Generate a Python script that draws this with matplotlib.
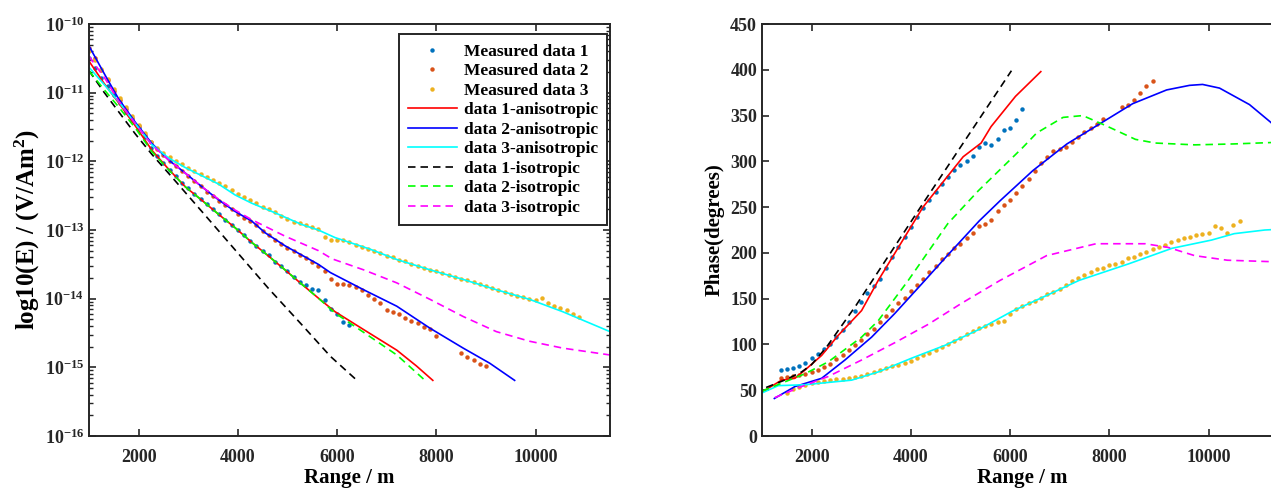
import numpy as np
import matplotlib
matplotlib.use("Agg")
import matplotlib.pyplot as plt

plt.rcParams['font.family'] = ['Liberation Serif', 'DejaVu Serif']
plt.rcParams['font.weight'] = 'bold'
plt.rcParams['mathtext.fontset'] = 'custom'
plt.rcParams['mathtext.rm'] = 'Liberation Serif:bold'
plt.rcParams['mathtext.bf'] = 'Liberation Serif:bold'
plt.rcParams['mathtext.it'] = 'Liberation Serif:bold'

# ---------------- left panel: field amplitude, stored as log10(E) ----------------
# measured data (one dot every 125 m)
m1_x = np.arange(1000, 6251, 125)
m1_logE = [-10.50, -10.64, -10.78, -10.91, -11.03, -11.15, -11.28, -11.40,
           -11.52, -11.65, -11.80, -11.92, -12.02, -12.13, -12.22, -12.31,
           -12.39, -12.47, -12.55, -12.62, -12.70, -12.77, -12.85, -12.92,
           -13.00, -13.07, -13.16, -13.23, -13.30, -13.37, -13.46, -13.52,
           -13.60, -13.68, -13.76, -13.80, -13.86, -13.88, -14.02, -14.15,
           -14.22, -14.34, -14.39]

m2_x = np.concatenate([np.arange(1000, 8001, 125), np.arange(8500, 9001, 125)])
m2_logE = [-10.35, -10.50, -10.67, -10.82, -10.97, -11.11, -11.24, -11.37,
           -11.49, -11.61, -11.72, -11.82, -11.91, -11.99, -12.07, -12.14,
           -12.21, -12.29, -12.36, -12.44, -12.51, -12.58, -12.64, -12.70,
           -12.76, -12.82, -12.87, -12.93, -13.01, -13.08, -13.14, -13.20,
           -13.26, -13.31, -13.37, -13.41, -13.46, -13.52, -13.60, -13.72,
           -13.78, -13.79, -13.80, -13.83, -13.88, -13.95, -14.01, -14.07,
           -14.16, -14.19, -14.22, -14.28, -14.32, -14.36, -14.41, -14.44,
           -14.55,
           -14.79, -14.85, -14.90, -14.95, -14.98]

m3_x = np.arange(1000, 10876, 125)
m3_logE = [-10.40, -10.52, -10.66, -10.80, -10.94, -11.08, -11.21, -11.34,
           -11.47, -11.59, -11.72, -11.81, -11.88, -11.94, -11.99, -12.04,
           -12.09, -12.14, -12.18, -12.23, -12.27, -12.31, -12.36, -12.42,
           -12.47, -12.52, -12.56, -12.61, -12.66, -12.70, -12.74, -12.79,
           -12.84, -12.88, -12.90, -12.93, -12.96, -12.98, -13.10, -13.15,
           -13.14, -13.14, -13.18, -13.22, -13.25, -13.27, -13.30, -13.34,
           -13.38, -13.40, -13.43, -13.45, -13.50, -13.53, -13.55, -13.58,
           -13.60, -13.63, -13.66, -13.68, -13.71, -13.73, -13.76, -13.79,
           -13.82, -13.85, -13.88, -13.90, -13.93, -13.96, -13.98, -14.00,
           -14.02, -13.99, -14.06, -14.10, -14.14, -14.16, -14.22, -14.26]

# modelled curves
a1_x = [1000, 1300, 1600, 1950, 2270, 2600, 2940, 3280, 3610, 3950, 4280,
        4620, 4950, 5290, 5620, 5960, 6535, 7204, 7600, 7930]
a1_logE = [-10.54, -10.86, -11.15, -11.50, -11.84, -12.11, -12.37, -12.57,
           -12.77, -12.97, -13.18, -13.38, -13.58, -13.79, -13.99, -14.19,
           -14.45, -14.75, -14.98, -15.19]
a2_x = [1000, 1329, 1597, 1933, 2268, 2604, 2939, 3275, 3610, 3946, 4281,
        4550, 4952, 5623, 5866, 6535, 7204, 7873, 8542, 9077, 9579]
a2_logE = [-10.32, -10.75, -11.09, -11.43, -11.74, -11.98, -12.17, -12.37,
           -12.56, -12.73, -12.87, -13.04, -13.23, -13.50, -13.62, -13.87,
           -14.11, -14.43, -14.72, -14.94, -15.19]
a3_x = [1000, 1329, 1597, 1933, 2268, 2604, 2939, 3275, 3610, 3946, 4281,
        4751, 5288, 5623, 5959, 6669, 7204, 7873, 8542, 9211, 9880, 10549, 11500]
a3_logE = [-10.63, -10.90, -11.13, -11.45, -11.76, -11.95, -12.09, -12.21,
           -12.33, -12.49, -12.61, -12.75, -12.92, -13.00, -13.11, -13.28,
           -13.43, -13.58, -13.72, -13.87, -14.01, -14.19, -14.48]
i1_x = [1000, 1300, 1600, 1933, 2270, 2600, 3275, 3946, 4617, 5290, 5866, 6401]
i1_logE = [-10.68, -10.99, -11.28, -11.60, -11.90, -12.17, -12.73, -13.29,
           -13.85, -14.38, -14.84, -15.19]
i2_x = [1000, 1300, 1600, 1950, 2270, 2600, 2940, 3280, 3610, 3950, 4280,
        4620, 4950, 5290, 5620, 5960, 6535, 7204, 7773]
i2_logE = [-10.68, -10.95, -11.21, -11.53, -11.86, -12.12, -12.37, -12.57,
           -12.77, -12.97, -13.18, -13.38, -13.58, -13.79, -13.99, -14.21,
           -14.49, -14.82, -15.19]
i3_x = [1000, 1329, 1597, 1933, 2268, 2604, 2939, 3275, 3610, 3946, 4281,
        4952, 5623, 5900, 6535, 7204, 7873, 8542, 9211, 9880, 10549, 11500]
i3_logE = [-10.47, -10.80, -11.12, -11.45, -11.76, -11.98, -12.17, -12.37,
           -12.55, -12.71, -12.85, -13.09, -13.30, -13.42, -13.58, -13.77,
           -14.01, -14.26, -14.48, -14.62, -14.72, -14.82]

# ---------------- right panel: phase in degrees ----------------
p1_x = np.arange(1375, 6251, 125)
p1_deg = [72, 73, 74, 76, 80,
          85, 90, 95, 101, 108, 116, 125, 136,
          146, 156, 164, 172, 184, 195, 206, 217,
          228, 239, 249, 258, 267, 275, 283, 290,
          296, 300, 306, 316, 320, 318, 324, 334,
          336, 345, 357]
p2_x = np.concatenate([np.arange(1375, 7876, 125), np.arange(8250, 8876, 125)])
p2_deg = [63, 64, 66, 67, 68,
          70, 72, 75, 79, 84, 89, 94, 99,
          105, 111, 117, 124, 131, 138, 145, 151,
          158, 165, 172, 179, 186, 193, 199, 205,
          210, 216, 222, 229, 232, 236, 246, 252,
          258, 265, 273, 281, 289, 298, 305, 311,
          313, 316, 321, 327, 332, 336, 341, 346,
          359, 362, 367, 375, 382, 388]
p3_x = np.arange(1500, 10626, 125)
p3_deg = [47, 51, 54, 56,
          58, 59, 60, 61, 62, 62, 63, 64,
          66, 68, 70, 72, 74, 76, 78, 80,
          82, 85, 88, 91, 94, 97, 100, 104,
          107, 111, 115, 118, 120, 122, 124, 126,
          133, 139, 142, 145, 148, 151, 155, 157,
          161, 165, 169, 173, 176, 179, 182, 184,
          187, 188, 190, 194, 196, 199, 201, 204,
          206, 209, 212, 214, 216, 217, 219, 221,
          222, 229, 227, 222, 231, 235]

pa1_x = [1000, 1395, 1664, 1866, 2202, 2538, 3008, 3344, 4245, 5055, 5417,
         5618, 6110, 6620]
pa1_deg = [48, 61, 63, 72, 88, 110, 137, 170, 250, 305, 320, 338, 371, 398]
pa2_x = [1250, 1664, 2202, 2672, 3210, 3680, 4285, 4700, 5380, 5800, 6462,
         7146, 7809, 8472, 9156, 9618, 9880, 10222, 10825, 11246, 11500]
pa2_deg = [41, 54, 63, 83, 108, 134, 170, 195, 235, 257, 290, 319, 341, 363,
           378, 383, 384, 380, 362, 343, 330]
pa3_x = [1000, 1328, 1866, 2807, 3344, 4016, 4688, 5360, 6032, 6597, 7393,
         8388, 9263, 10060, 10517, 11134, 11500]
pa3_deg = [47, 55, 56, 61, 70, 85, 99, 116, 136, 150, 170, 188, 205, 214,
           221, 225, 226]
pi1_x = [1084, 1500, 1800, 2000, 2300, 2600, 2900, 4245, 6028]
pi1_deg = [53, 62, 70, 78, 97, 120, 143, 254, 399]
pi2_x = [1000, 1866, 2336, 3008, 3344, 3949, 4746, 5363, 6254, 6537, 7068,
         7466, 7930, 8527, 8925, 9721, 10500, 11500]
pi2_deg = [49, 68, 81, 108, 126, 170, 232, 268, 315, 331, 348, 350, 339,
           324, 320, 318, 319, 321]
pi3_x = [1261, 1798, 2336, 3008, 3680, 4352, 5024, 5800, 6736, 7731, 8726,
         9184, 9721, 10378, 11500]
pi3_deg = [42, 54, 65, 83, 102, 122, 145, 170, 197, 210, 210, 206, 197, 192, 190]

labels = ['Measured data 1', 'Measured data 2', 'Measured data 3',
          'data 1-anisotropic', 'data 2-anisotropic', 'data 3-anisotropic',
          'data 1-isotropic', 'data 2-isotropic', 'data 3-isotropic']
dot_colors = ['#0072BD', '#D95319', '#EDB120']
line_styles = [('#FF0000', '-'), ('#0000FF', '-'), ('#00FFFF', '-'),
               ('#000000', '--'), ('#00FF00', '--'), ('#FF00FF', '--')]

fig = plt.figure(figsize=(12.71, 4.9), dpi=100)
ax1 = fig.add_axes([0.0700, 0.1102, 0.4099, 0.8408])
ax2 = fig.add_axes([0.5995, 0.1102, 0.4099, 0.8408])


def draw_line(ax, x, y, color, ls, label=None):
    line, = ax.plot(x, y, ls, color=color, lw=1.2, label=label)
    if ls == '--':
        line.set_dashes((4.5, 3.0))


# left panel
dots = [(m1_x, m1_logE), (m2_x, m2_logE), (m3_x, m3_logE)]
for (x, v), c, lab in zip(dots, dot_colors, labels[:3]):
    ax1.plot(x, np.power(10.0, v), 'o', color=c, ms=3.2, mec='none', label=lab)
curves = [(a1_x, a1_logE), (a2_x, a2_logE), (a3_x, a3_logE),
          (i1_x, i1_logE), (i2_x, i2_logE), (i3_x, i3_logE)]
for (x, v), (c, ls), lab in zip(curves, line_styles, labels[3:]):
    draw_line(ax1, x, np.power(10.0, v), c, ls, lab)

ax1.set_yscale('log')
ax1.set_xlim(1000, 11500)
ax1.set_ylim(1e-16, 1e-10)
ax1.set_xticks([2000, 4000, 6000, 8000, 10000])
decades = [-16, -15, -14, -13, -12, -11, -10]
ax1.set_yticks([10.0 ** d for d in decades])
ax1.set_yticklabels([r'$\mathbf{10^{%d}}$' % d for d in decades])
ax1.set_xlabel('Range / m', fontsize=15, fontweight='bold', labelpad=2)
ax1.set_ylabel(r'log10(E) / (V/Am$^\mathbf{2}$)', fontsize=18,
               fontweight='bold', labelpad=2)
leg = ax1.legend(loc='upper right', bbox_to_anchor=(0.995, 0.975),
                 fontsize=12.5, handlelength=2.8, labelspacing=0.19,
                 borderaxespad=0.0, borderpad=0.55, handletextpad=0.4,
                 numpoints=1, fancybox=False, edgecolor='#262626',
                 framealpha=1)
leg.get_frame().set_linewidth(1.4)

# right panel
pdots = [(p1_x, p1_deg), (p2_x, p2_deg), (p3_x, p3_deg)]
for (x, v), c in zip(pdots, dot_colors):
    ax2.plot(x, v, 'o', color=c, ms=3.2, mec='none')
pcurves = [(pa1_x, pa1_deg), (pa2_x, pa2_deg), (pa3_x, pa3_deg),
           (pi1_x, pi1_deg), (pi2_x, pi2_deg), (pi3_x, pi3_deg)]
for (x, v), (c, ls) in zip(pcurves, line_styles):
    draw_line(ax2, x, v, c, ls)
ax2.set_xlim(1000, 11500)
ax2.set_ylim(0, 450)
ax2.set_xticks([2000, 4000, 6000, 8000, 10000])
ax2.set_yticks(np.arange(0, 451, 50))
ax2.set_xlabel('Range / m', fontsize=15, fontweight='bold', labelpad=2)
ax2.set_ylabel('Phase(degrees)', fontsize=15, fontweight='bold')

for ax in (ax1, ax2):
    for s in ax.spines.values():
        s.set_linewidth(1.4)
        s.set_color('#262626')
    ax.tick_params(which='both', direction='in', top=True, right=True,
                   labelsize=13, color='#262626', labelcolor='#262626')
    ax.tick_params(which='major', length=5, width=1.2)
    ax.tick_params(which='minor', length=3, width=1.0)
    ax.tick_params(axis='x', pad=9)

fig.savefig('out.png', dpi=100)
